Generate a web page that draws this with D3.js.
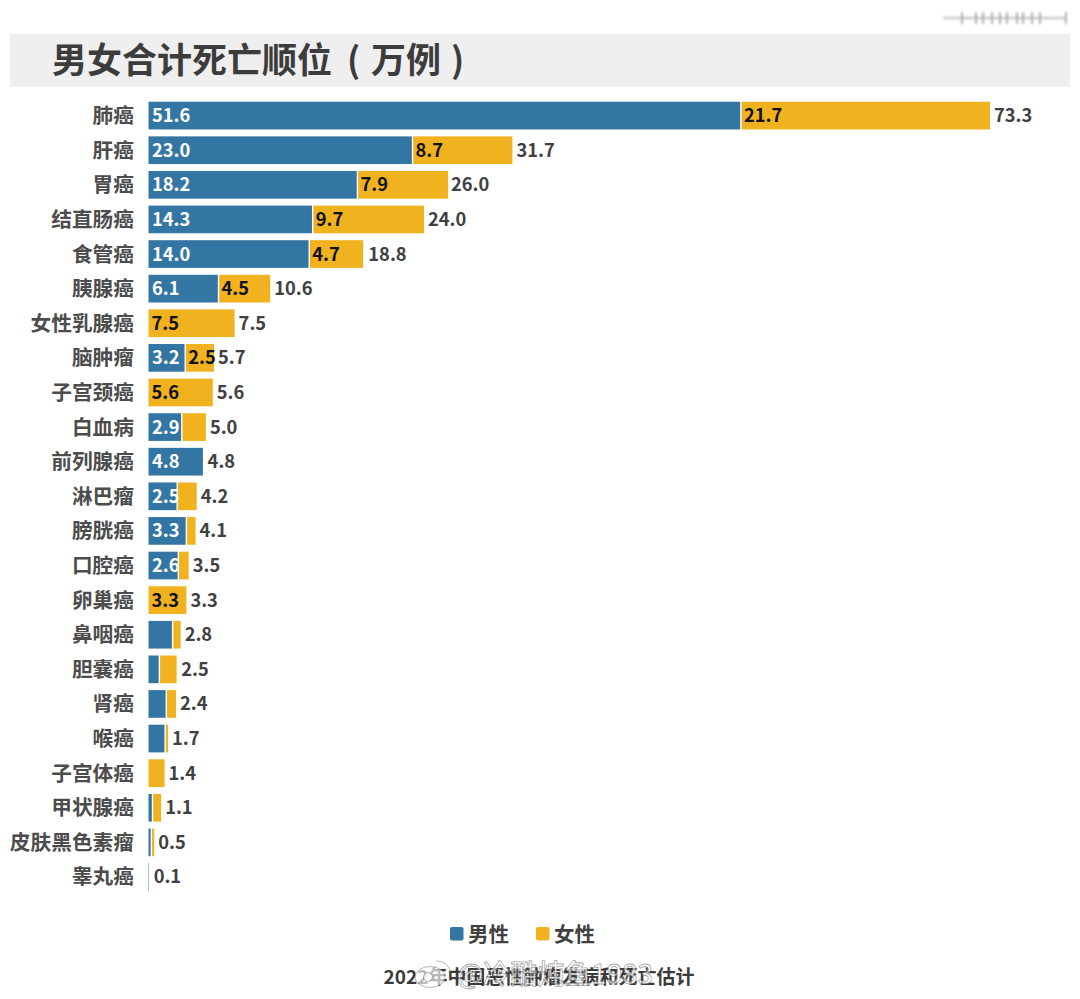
<!DOCTYPE html><html>
<head>
<meta charset="utf-8">
<style>
* { font-family: "Noto Sans CJK SC", "Noto Sans", sans-serif; }
svg, body { padding: 0; margin: 0; display: block; background-color: #fff; }
.cat { font-size: 20.7px; font-weight: 700; fill: #4c4c4c; text-anchor: end; }
.total { font-size: 18.3px; font-weight: 700; fill: #404040; }
.inbar { font-size: 18.3px; font-weight: 700; }
</style>
</head>
<body>
<svg id="chart" width="1080" height="999"></svg>
<script src="https://cdn.jsdelivr.net/npm/d3@7"></script>
<script>
var categories = ["肺癌","肝癌","胃癌","结直肠癌","食管癌","胰腺癌","女性乳腺癌","脑肿瘤","子宫颈癌","白血病","前列腺癌","淋巴瘤","膀胱癌","口腔癌","卵巢癌","鼻咽癌","胆囊癌","肾癌","喉癌","子宫体癌","甲状腺癌","皮肤黑色素瘤","睾丸癌"];
var male =   [51.6,23.0,18.2,14.3,14.0,6.1,0,3.2,0,2.9,4.8,2.5,3.3,2.6,0,2.1,0.95,1.55,1.45,0,0.35,0.25,0.1];
var female = [21.7,8.7,7.9,9.7,4.7,4.5,7.5,2.5,5.6,2.1,0,1.7,0.8,0.9,3.3,0.7,1.5,0.85,0.25,1.4,0.75,0.25,0];
var totals = ["73.3","31.7","26.0","24.0","18.8","10.6","7.5","5.7","5.6","5.0","4.8","4.2","4.1","3.5","3.3","2.8","2.5","2.4","1.7","1.4","1.1","0.5","0.1"];
// segments too narrow get no number in the original
var maleLabels = ["51.6","23.0","18.2","14.3","14.0","6.1","","3.2","","2.9","4.8","2.5","3.3","2.6","","","","","","","","",""];
var femaleLabels = ["21.7","8.7","7.9","9.7","4.7","4.5","7.5","2.5","5.6","","","","","","3.3","","","","","","","",""];
var legendItems = ["男性","女性"];
var titleParts = ["男女合计死亡顺位", "(", "万例", ")"];
var footer = "2022年中国恶性肿瘤发病和死亡估计";
var watermark = "@冷酷炖鱼1983";
var stripTicks = [962,976,983,992,1000,1007,1017,1023,1032,1040,1066];

var BLUE = "#3476a3", GOLD = "#f0b31f";
var svg = d3.select("#chart");

var x = d3.scaleLinear().domain([0, 73.3]).range([148.5, 990]);
var y = d3.scaleBand().domain(categories).range([98.3, 894.3]).paddingInner(0.2).paddingOuter(0.1);

// title band
svg.append("rect").attr("x", 10).attr("y", 34).attr("width", 1060).attr("height", 53).attr("fill", "#efefef");
var titleX = [52, 347, 371, 451];
svg.append("text").attr("y", 73)
    .style("font-size", "35px").style("font-weight", 700).attr("fill", "#3c3c3c")
    .selectAll("tspan").data(titleParts).enter().append("tspan")
    .attr("x", (d, i) => titleX[i])
    .text(d => d);

// blurred strip top right
var defs = svg.append("defs");
defs.append("filter").attr("id", "blur").append("feGaussianBlur").attr("stdDeviation", 1.2);
var strip = svg.append("g").attr("filter", "url(#blur)");
strip.append("line").attr("x1", 943).attr("x2", 1066).attr("y1", 18).attr("y2", 18)
    .attr("stroke", "#d2d2d2").attr("stroke-width", 3);
strip.selectAll("line.t").data(stripTicks).enter().append("line").attr("class", "t")
    .attr("x1", d => d).attr("x2", d => d).attr("y1", 12).attr("y2", 24)
    .attr("stroke", "#9a9a9a").attr("stroke-width", 1.5);

var rows = svg.selectAll("g.row").data(categories).enter().append("g").attr("class", "row");

rows.append("text").attr("class", "cat")
    .attr("x", 134).attr("y", d => y(d) + y.bandwidth() / 2 + 7.5)
    .text(d => d);

rows.append("rect")
    .attr("x", x(0)).attr("y", d => y(d))
    .attr("width", (d, i) => Math.max(0, x(male[i]) - x(0) - 0.7)).attr("height", y.bandwidth())
    .attr("fill", BLUE);

rows.append("rect")
    .attr("x", (d, i) => x(male[i]) + (male[i] > 0 ? 0.7 : 0)).attr("y", d => y(d))
    .attr("width", (d, i) => Math.max(0, x(female[i]) - x(0) - (male[i] > 0 ? 0.7 : 0))).attr("height", y.bandwidth())
    .attr("fill", GOLD);

rows.append("text").attr("class", "inbar").attr("fill", "#fff")
    .attr("x", x(0) + 3.5).attr("y", d => y(d) + y.bandwidth() / 2 + 6.5)
    .text((d, i) => maleLabels[i]);

rows.append("text").attr("class", "inbar").attr("fill", "#111")
    .attr("x", (d, i) => x(male[i]) + 3).attr("y", d => y(d) + y.bandwidth() / 2 + 6.5)
    .text((d, i) => femaleLabels[i]);

rows.append("text").attr("class", "total")
    .attr("x", (d, i) => x(+totals[i]) + 4).attr("y", d => y(d) + y.bandwidth() / 2 + 6.5)
    .text((d, i) => totals[i]);

// legend
var lx = d3.scalePoint().domain(legendItems).range([450, 536]);
var lg = svg.selectAll("g.lg").data(legendItems).enter().append("g").attr("class", "lg");
lg.append("rect").attr("x", d => lx(d)).attr("y", 927).attr("width", 13.5).attr("height", 13.5).attr("rx", 2)
    .attr("fill", (d, i) => i == 0 ? BLUE : GOLD);
lg.append("text").attr("x", d => lx(d) + 18).attr("y", 942)
    .style("font-size", "20.5px").style("font-weight", 700).attr("fill", "#404040")
    .text(d => d);

// footer, with the weibo watermark stamped across it
svg.append("text").attr("x", 539).attr("y", 984).attr("text-anchor", "middle")
    .style("font-size", "19px").style("font-weight", 700).attr("fill", "#3a3a3a")
    .text(footer);
var wm = svg.append("g").attr("fill", "#fff").attr("fill-opacity", 0.65)
    .attr("stroke", "#555").attr("stroke-width", 0.8).attr("stroke-opacity", 0.55);
wm.append("ellipse").attr("cx", 430).attr("cy", 977).attr("rx", 15).attr("ry", 10.5);
wm.append("path").attr("d", "M436 961 a14 14 0 0 1 15 13").attr("fill", "none");
wm.append("circle").attr("cx", 428).attr("cy", 977).attr("r", 4.5);
wm.append("text").attr("x", 457).attr("y", 984)
    .style("font-size", "27px").style("font-weight", 500)
    .text(watermark);
</script>
</body>
</html>
